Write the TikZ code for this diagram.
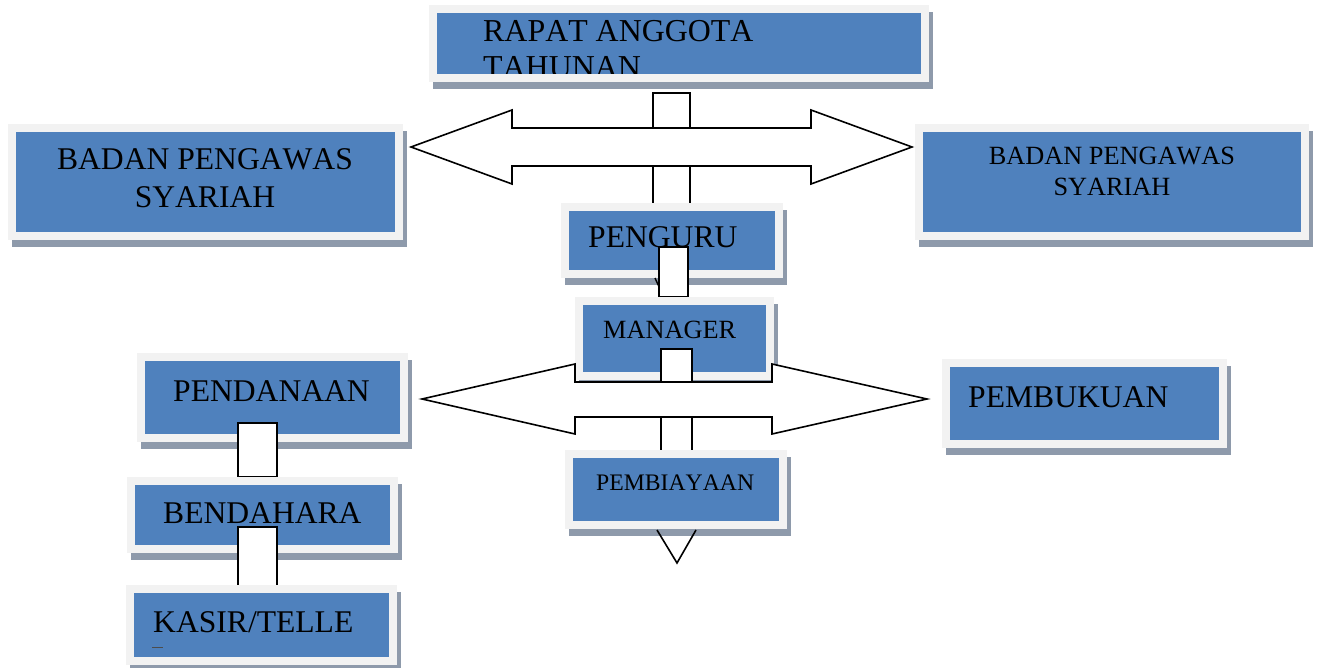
\documentclass[tikz,border=0pt]{standalone}
\usepackage{fontspec}
\setmainfont[Kerning=Off]{Liberation Serif}
\definecolor{boxblue}{HTML}{4F81BD}
\definecolor{frameg}{HTML}{F2F2F2}
\definecolor{shadowc}{HTML}{8E9AAB}
\tikzset{
  box/.style={draw=frameg, fill=boxblue, line width=8pt, inner sep=0pt,
    preaction={draw=shadowc, fill=shadowc, transform canvas={xshift=4pt,yshift=-7pt}}},
  stembox/.style={draw=black, fill=white, line width=1.6pt},
  blockarrow/.style={draw=black, fill=white, line width=1.6pt, line join=miter},
  lbl/.style={inner sep=0pt, text=black},
  big/.style={lbl, font=\fontsize{31.6}{37}\selectfont},
  mid/.style={lbl, font=\fontsize{26.3}{31}\selectfont},
  small/.style={lbl, font=\fontsize{23.7}{29}\selectfont},
}
\begin{document}
\begin{tikzpicture}[x=1pt,y=-1pt]
\useasboundingbox (0,0) rectangle (1318,668);

% RAPAT ANGGOTA TAHUNAN
\node[box, minimum width=492pt, minimum height=69pt] (rapat) at (679,43.5) {};
\begin{scope}
  \clip (437,13) rectangle (921,74);
  \node[lbl, font=\fontsize{31.9}{37}\selectfont, anchor=base west] (rapatT1) at (483,42) {RAPAT ANGGOTA};
  \node[lbl, font=\fontsize{31.9}{37}\selectfont, anchor=base west] (rapatT2) at (483,78) {TAHUNAN};
\end{scope}

% stem from RAPAT to PENGURU
\draw[stembox] (653,93) rectangle (690,205);

% double arrow 1
\draw[blockarrow] (411,147) -- (512,110) -- (512,128) -- (811,128) -- (811,110) -- (912,147)
  -- (811,184) -- (811,166) -- (512,166) -- (512,184) -- cycle;

% BADAN PENGAWAS SYARIAH (left)
\node[box, minimum width=387pt, minimum height=108pt] (bpsL) at (205.5,182) {};
\node[big, anchor=base] (bpsL1) at (205,170) {BADAN PENGAWAS};
\node[big, anchor=base] (bpsL2) at (205,208) {SYARIAH};

% BADAN PENGAWAS SYARIAH (right)
\node[box, minimum width=386pt, minimum height=108pt] (bpsR) at (1112,182) {};
\node[mid, anchor=base] (bpsR1) at (1112,165) {BADAN PENGAWAS};
\node[mid, anchor=base] (bpsR2) at (1112,196) {SYARIAH};

% PENGURU
\node[box, minimum width=214pt, minimum height=67pt] (penguru) at (672,240.5) {};
\node[big, anchor=base west] (pengT) at (588,248) {PENGURU};
\draw[line width=1.4pt] (655,278) -- (660,289);
\draw[stembox] (659,247) rectangle (688,297);

% MANAGER
\node[box, minimum width=191pt, minimum height=75pt] (manager) at (674.5,338.5) {};
\node[mid, anchor=base west] (manT) at (603,339) {MANAGER};

% stem below arrow 2
\draw[stembox] (661,417) rectangle (692,452);

% double arrow 2
\draw[blockarrow] (422,399) -- (575,364) -- (575,382) -- (772,382) -- (772,364) -- (927,399)
  -- (772,434) -- (772,417) -- (575,417) -- (575,434) -- cycle;
\draw[stembox] (661,349) rectangle (692,382);

% PEMBIAYAAN
\node[box, minimum width=214pt, minimum height=71pt] (pembiayaan) at (676,489.5) {};
\node[small, anchor=base west] (pembT) at (596,490) {PEMBIAYAAN};
\draw[line width=1.6pt, line join=miter] (657,530) -- (677,563) -- (696,530);

% PEMBUKUAN
\node[box, minimum width=277pt, minimum height=81pt] (pembukuan) at (1084.5,403.5) {};
\node[big, anchor=base west] (pbkT) at (968,407) {PEMBUKUAN};

% PENDANAAN
\node[box, minimum width=263pt, minimum height=81pt] (pendanaan) at (272.5,397.5) {};
\node[big, anchor=base west] (pendT) at (173,402) {PENDANAAN};
\draw[stembox] (238,423) rectangle (277,477);

% BENDAHARA
\node[box, minimum width=263pt, minimum height=68pt] (bendahara) at (262.5,515) {};
\node[big, anchor=base west] (bendT) at (163,523) {BENDAHARA};
\draw[stembox] (238,527) rectangle (277,586);

% KASIR/TELLE
\node[box, minimum width=263pt, minimum height=72pt] (kasir) at (261.5,625) {};
\node[big, anchor=base west] (kasT) at (153,632) {KASIR/TELLE};
\draw[line width=0.8pt, black!70] (152,647) -- (163,647);

\end{tikzpicture}
\end{document}
